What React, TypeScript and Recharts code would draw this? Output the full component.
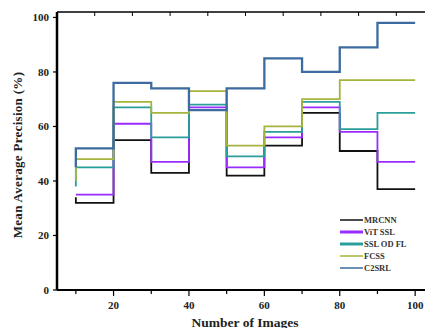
import React from 'react';
import { LineChart, Line, XAxis, YAxis } from 'recharts';

// number of images (x) and mAP (%) per method, step plot
const images = [10, 20, 30, 40, 50, 60, 70, 80, 90, 100];
const mrcnn = [34, 32, 55, 43, 66, 42, 53, 65, 51, 37];
const vitSsl = [35, 35, 61, 47, 67, 45, 56, 67, 58, 47];
const sslOdFl = [38, 45, 67, 56, 68, 49, 58, 69, 59, 65];
const fcss = [40, 48, 69, 65, 73, 53, 60, 70, 77, 77];
const c2srl = [45, 52, 76, 74, 66, 74, 85, 80, 89, 98];

const xTicks = [10, 20, 30, 40, 50, 60, 70, 80, 90, 100];
const yTicks = [0, 20, 40, 60, 80, 100];
const topTicks = [15, 25, 35, 45, 55, 65, 75, 85, 95];
const rightTicks = [10.3, 20.6, 30.5, 41, 51.5, 61.8, 72, 82, 92.3];

const series = [
  { key: 'mrcnn', name: 'MRCNN', color: '#111111', width: 1.8, legendWidth: 1.5 },
  { key: 'vit', name: 'ViT SSL', color: '#9b2cff', width: 1.8, legendWidth: 3 },
  { key: 'ssl', name: 'SSL OD FL', color: '#2a9e9a', width: 1.8, legendWidth: 3 },
  { key: 'fcss', name: 'FCSS', color: '#a6b43c', width: 1.8, legendWidth: 1.5 },
  { key: 'c2srl', name: 'C2SRL', color: '#3d6b9f', width: 2.3, legendWidth: 1.5 },
];

const data = images.map((x, i) => ({
  x,
  mrcnn: mrcnn[i],
  vit: vitSsl[i],
  ssl: sslOdFl[i],
  fcss: fcss[i],
  c2srl: c2srl[i],
}));

const font = '"Liberation Serif", "Times New Roman", serif';

const BottomTick = (props: any) => {
  const { x, y, payload } = props;
  const major = payload.value % 20 === 0;
  return (
    <g>
      <line x1={x} x2={x} y1={y} y2={y + (major ? 6 : 4)} stroke="#000" strokeWidth={1.2} />
      {major && (
        <text x={x} y={y + 19} textAnchor="middle" fontFamily={font} fontWeight="bold" fontSize={11} fill="#222">
          {payload.value}
        </text>
      )}
    </g>
  );
};

const LeftTick = (props: any) => {
  const { x, y, payload } = props;
  return (
    <g>
      <line x1={x - 4} x2={x} y1={y} y2={y} stroke="#000" strokeWidth={1.2} />
      <text x={x - 8} y={y + 4} textAnchor="end" fontFamily={font} fontWeight="bold" fontSize={11} fill="#222">
        {payload.value}
      </text>
    </g>
  );
};

const TopTick = (props: any) => {
  const { x, y } = props;
  return <line x1={x} x2={x} y1={y} y2={y + 4} stroke="#000" strokeWidth={1} />;
};

const RightTick = (props: any) => {
  const { x, y } = props;
  return <line x1={x - 3} x2={x} y1={y} y2={y} stroke="#333" strokeWidth={1} />;
};

export default function App() {
  return (
    <div style={{ margin: -8, position: 'relative', width: 445, height: 336 }}>
      <LineChart width={445} height={336} data={data} margin={{ top: 11, right: 10, bottom: 16, left: 12 }}>
        <XAxis
          xAxisId="bottom"
          dataKey="x"
          type="number"
          domain={[5, 105]}
          ticks={xTicks}
          interval={0}
          height={30}
          tickSize={0}
          tickMargin={0}
          tickLine={false}
          tick={BottomTick}
          axisLine={{ stroke: '#000', strokeWidth: 2.2 }}
        />
        <XAxis
          xAxisId="top"
          orientation="top"
          dataKey="x"
          type="number"
          domain={[5, 105]}
          ticks={topTicks}
          interval={0}
          height={1}
          tickSize={0}
          tickMargin={0}
          tickLine={false}
          tick={TopTick}
          axisLine={{ stroke: '#000', strokeWidth: 1.3 }}
        />
        <YAxis
          yAxisId="left"
          type="number"
          domain={[0, 102]}
          ticks={yTicks}
          interval={0}
          width={45}
          tickSize={0}
          tickMargin={0}
          tickLine={false}
          tick={LeftTick}
          axisLine={{ stroke: '#000', strokeWidth: 2.5 }}
        />
        <YAxis
          yAxisId="right"
          orientation="right"
          type="number"
          domain={[0, 102]}
          ticks={rightTicks}
          interval={0}
          width={1}
          tickSize={0}
          tickMargin={0}
          tickLine={false}
          tick={RightTick}
          axisLine={{ stroke: '#000', strokeWidth: 1.3 }}
        />
        {series.map((s) => (
          <Line
            key={s.key}
            xAxisId="bottom"
            yAxisId="left"
            type="stepBefore"
            dataKey={s.key}
            name={s.name}
            stroke={s.color}
            strokeWidth={s.width}
            dot={false}
            activeDot={false}
            isAnimationActive={false}
          />
        ))}
      </LineChart>
      {/* legend */}
      <div
        style={{
          position: 'absolute',
          left: 340,
          top: 214,
          fontFamily: font,
          fontWeight: 'bold',
          fontSize: 8.5,
          color: '#333',
        }}
      >
        {series.map((s) => (
          <div key={s.key} style={{ display: 'flex', alignItems: 'center', height: 12 }}>
            <svg width={23} height={8}>
              <line x1={0} x2={23} y1={4} y2={4} stroke={s.color} strokeWidth={s.legendWidth} />
            </svg>
            <span style={{ marginLeft: 1 }}>{s.name}</span>
          </div>
        ))}
      </div>
      <div
        style={{
          position: 'absolute',
          left: 18,
          top: 155,
          transform: 'translate(-50%, -50%) rotate(-90deg)',
          whiteSpace: 'nowrap',
          fontFamily: font,
          fontWeight: 'bold',
          fontSize: 13,
          letterSpacing: 0.3,
          color: '#222',
        }}
      >
        Mean Average Precision (%)
      </div>
      <div
        style={{
          position: 'absolute',
          left: 245,
          top: 323,
          transform: 'translate(-50%, -50%)',
          whiteSpace: 'nowrap',
          fontFamily: font,
          fontWeight: 'bold',
          fontSize: 13.5,
          color: '#222',
        }}
      >
        Number of Images
      </div>
    </div>
  );
}
